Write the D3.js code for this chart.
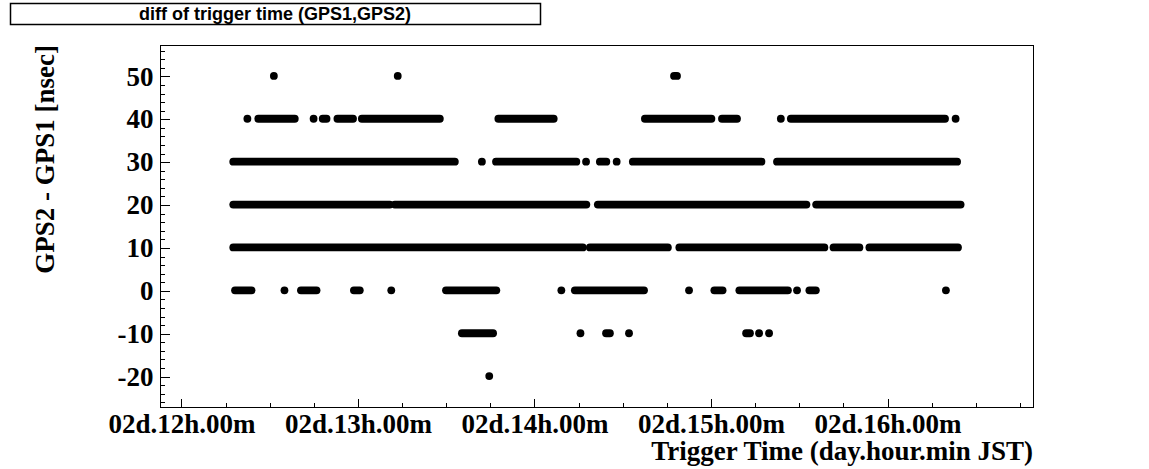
<!DOCTYPE html>
<html><head><meta charset="utf-8">
<script src="https://cdn.jsdelivr.net/npm/d3@7"></script>
<style>
body{margin:0;background:#fff;}
svg{display:block;}
</style>
</head><body>
<svg id="chart" width="1149" height="469"></svg>
<script>
// ---------- text ----------
const titleText = "diff of trigger time (GPS1,GPS2)";
const xTitleText = "Trigger Time (day.hour.min JST)";
const yTitleText = "GPS2 - GPS1 [nsec]";

// ---------- axes ----------
const xRangeMinutes = [-7.1, 289.6];          // minutes after 02d 12:00 JST
const yRange = [-27.2, 57.2];
const xMajorHours = [12, 13, 14, 15, 16];
const yMajorTicks = [-20, -10, 0, 10, 20, 30, 40, 50];

// ---------- data: runs of consecutive triggers, [start, end] in minutes after 02d 12:00 JST ----------
const levels = [50, 40, 30, 20, 10, 0, -10, -20];
const runs50 = [[31.6,31.6],[73.7,73.7],[167.6,168.6]];
const runs40 = [[22.6,22.6],[26.3,38.7],[45.1,45.1],[48.2,49.5],[53.2,58.5],[61.5,88.0],
                [107.9,126.7],[157.7,180.3],[183.9,189.0],[203.9,203.9],[207.3,259.7],[263.3,263.3]];
const runs30 = [[17.8,93.1],[102.3,102.3],[107.1,134.4],[137.7,137.7],[142.4,144.6],[148.1,148.1],
                [153.6,197.3],[202.6,263.8]];
const runs20 = [[17.8,71.0],[72.7,137.8],[141.7,212.6],[215.9,265.0]];
const runs10 = [[17.8,136.6],[139.0,165.5],[169.4,218.7],[221.8,230.6],[234.0,264.1]];
const runs0  = [[18.4,24.0],[35.2,35.2],[40.8,46.1],[58.8,60.8],[71.5,71.5],[90.1,107.2],
                [129.3,129.3],[133.9,157.4],[172.7,172.7],[181.3,184.1],[189.8,206.3],
                [209.4,209.4],[213.6,215.8],[260.0,260.0]];
const runsM10 = [[95.5,106.1],[135.8,135.8],[144.5,145.8],[152.3,152.3],[192.1,193.4],[196.5,196.5],[199.9,199.9]];
const runsM20 = [[104.8,104.8]];
const runsByLevel = [runs50, runs40, runs30, runs20, runs10, runs0, runsM10, runsM20];

// ---------- layout ----------
const frame = {left:160, right:1033, top:45, bottom:407};
const base = Date.UTC(2000, 0, 2, 12, 0, 0);
const toTime = m => new Date(base + m * 60000);

const svg = d3.select("#chart");
const x = d3.scaleTime().domain(xRangeMinutes.map(toTime)).range([frame.left, frame.right]);
const y = d3.scaleLinear().domain(yRange).range([frame.bottom, frame.top]);

const serif = "'Liberation Serif','Times New Roman',serif";
const sans = "'Liberation Sans',Arial,sans-serif";
const fs = 27;

// title box
svg.append("rect").attr("x", 10.5).attr("y", 3.5).attr("width", 530).attr("height", 21)
  .attr("fill", "#fff").attr("stroke", "#000").attr("stroke-width", 1.5);
svg.append("text").attr("x", 275).attr("y", 20).attr("text-anchor", "middle")
  .attr("font-family", sans).attr("font-weight", "bold").attr("font-size", 18)
  .text(titleText);

// frame
svg.append("rect").attr("x", frame.left + 0.5).attr("y", frame.top + 0.5)
  .attr("width", frame.right - frame.left).attr("height", frame.bottom - frame.top)
  .attr("fill", "none").attr("stroke", "#000").attr("stroke-width", 1).attr("shape-rendering", "crispEdges");

// x axis
const xMajor = xMajorHours.map(h => toTime((h - 12) * 60));
const xMinor = d3.utcMinute.every(15).range(...x.domain());
const gxMinor = svg.append("g").attr("transform", `translate(0.5,${frame.bottom + 0.5})`)
  .call(d3.axisBottom(x).tickValues(xMinor).tickSize(-4.5).tickFormat(""));
const gx = svg.append("g").attr("transform", `translate(0.5,${frame.bottom + 0.5})`)
  .call(d3.axisBottom(x).tickValues(xMajor).tickSize(-9).tickPadding(6).tickFormat(d3.utcFormat("%dd.%Hh.%Mm")));
[gx, gxMinor].forEach(g => { g.select(".domain").remove(); g.selectAll("line").attr("shape-rendering","crispEdges"); });
gx.selectAll("text").attr("font-family", serif).attr("font-weight", "bold").attr("font-size", fs).attr("fill", "#000");

// y axis
const yMinor = d3.range(-26, 57, 2);
const gyMinor = svg.append("g").attr("transform", `translate(${frame.left + 0.5},0.5)`)
  .call(d3.axisLeft(y).tickValues(yMinor).tickSize(-4.5).tickFormat(""));
const gy = svg.append("g").attr("transform", `translate(${frame.left + 0.5},0.5)`)
  .call(d3.axisLeft(y).tickValues(yMajorTicks).tickSize(-9).tickPadding(7).tickFormat(d => String(d)));
[gy, gyMinor].forEach(g => { g.select(".domain").remove(); g.selectAll("line").attr("shape-rendering","crispEdges"); });
gy.selectAll("text").attr("font-family", serif).attr("font-weight", "bold").attr("font-size", fs).attr("fill", "#000");

// axis titles
svg.append("text").attr("x", frame.right).attr("y", 460).attr("text-anchor", "end")
  .attr("font-family", serif).attr("font-weight", "bold").attr("font-size", fs).text(xTitleText);
svg.append("text").attr("transform", `translate(54,${frame.top}) rotate(-90)`).attr("text-anchor", "end")
  .attr("font-family", serif).attr("font-weight", "bold").attr("font-size", fs).text(yTitleText);

// data
const markerD = 7.8;
const rows = svg.append("g").attr("class", "data");
levels.forEach((lev, i) => {
  const g = rows.append("g");
  runsByLevel[i].forEach(([s, e]) => {
    if (s === e) {
      g.append("circle").attr("cx", x(toTime(s))).attr("cy", y(lev)).attr("r", markerD / 2).attr("fill", "#000");
    } else {
      g.append("line").attr("x1", x(toTime(s))).attr("x2", x(toTime(e)))
        .attr("y1", y(lev)).attr("y2", y(lev))
        .attr("stroke", "#000").attr("stroke-width", markerD).attr("stroke-linecap", "round");
    }
  });
});
</script>
</body></html>
